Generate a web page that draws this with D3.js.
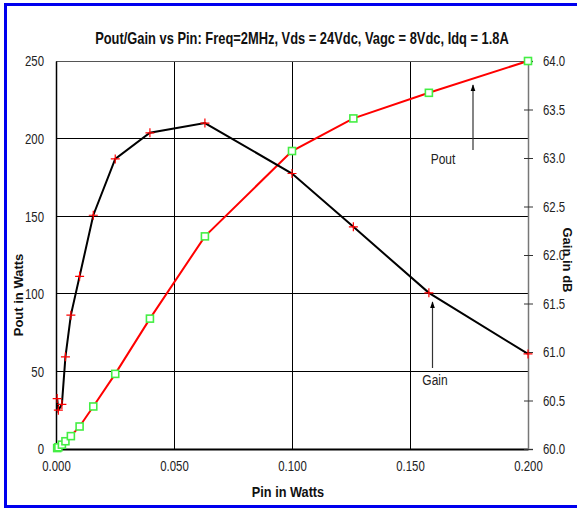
<!DOCTYPE html>
<html>
<head>
<meta charset="utf-8">
<script src="https://cdn.jsdelivr.net/npm/d3@7"></script>
<style>
  body { margin: 0; background: #fff; }
  svg { display: block; }
  text { font-family: "Liberation Sans", Arial, sans-serif; }
</style>
</head>
<body>
<div id="chart"></div>
<script>
// Pin / Pout / Gain data
const pinWatts = [0.0005, 0.001, 0.0025, 0.004, 0.0063, 0.01, 0.0158, 0.0251, 0.0398, 0.0631, 0.1, 0.126, 0.158, 0.2];
const poutWatts = [0.6, 1.1, 2.8, 5, 8.3, 14.5, 27.4, 48.4, 84, 137, 192, 213, 229.5, 250];
const gainDb = [60.52, 60.4, 60.46, 60.95, 61.38, 61.78, 62.41, 62.99, 63.26, 63.36, 62.84, 62.29, 61.61, 60.98];
const xTicks = [0, 0.05, 0.1, 0.15, 0.2];
const leftTicks = [0, 50, 100, 150, 200, 250];
const rightTicks = [60, 60.5, 61, 61.5, 62, 62.5, 63, 63.5, 64];

const W = 577, H = 510;
const plot = { left: 56, right: 528, top: 61, bottom: 449 };

const svg = d3.select("#chart").append("svg")
    .attr("width", W)
    .attr("height", H);

// squeeze text horizontally around its anchor, the reference uses a narrow face
function condense(sel, f) {
    sel.each(function () {
        const t = d3.select(this);
        const tx = +t.attr("x") || 0;
        t.attr("transform", `translate(${tx},0) scale(${f},1) translate(${-tx},0)`);
    });
}

// blue frame
svg.append("rect")
    .attr("x", 5.5).attr("y", 4.5)
    .attr("width", 600).attr("height", 502)
    .attr("fill", "none")
    .attr("stroke", "#0000ee")
    .attr("stroke-width", 3);

// scales
const x = d3.scaleLinear().domain([0, 0.2]).range([plot.left, plot.right]);
const yL = d3.scaleLinear().domain([0, 250]).range([plot.bottom, plot.top]);
const yR = d3.scaleLinear().domain([60, 64]).range([plot.bottom, plot.top]);

// gridlines
const grid = svg.append("g");
grid.selectAll(".vgrid")
    .data(xTicks.slice(1, -1))
    .enter().append("line")
    .attr("x1", d => x(d)).attr("x2", d => x(d))
    .attr("y1", plot.top).attr("y2", plot.bottom)
    .attr("stroke", "#000").attr("stroke-width", 1).attr("shape-rendering", "crispEdges");
grid.selectAll(".hgrid")
    .data(leftTicks.slice(1, -1))
    .enter().append("line")
    .attr("x1", plot.left).attr("x2", plot.right)
    .attr("y1", d => yL(d)).attr("y2", d => yL(d))
    .attr("stroke", "#000").attr("stroke-width", 1).attr("shape-rendering", "crispEdges");

// top border
svg.append("line")
    .attr("x1", plot.left).attr("x2", plot.right)
    .attr("y1", plot.top).attr("y2", plot.top)
    .attr("stroke", "#555").attr("shape-rendering", "crispEdges");

// left axis
const gLeft = svg.append("g")
    .attr("transform", `translate(${plot.left},0)`)
    .call(d3.axisLeft(yL).tickValues(leftTicks).tickSize(0).tickPadding(12).tickFormat(d3.format("d")));
gLeft.select(".domain").attr("stroke", "#000").attr("stroke-width", 1.5);
gLeft.selectAll("text").style("font-size", "15px").attr("fill", "#222").call(condense, 0.76);

// bottom axis
const gBottom = svg.append("g")
    .attr("transform", `translate(0,${plot.bottom})`)
    .call(d3.axisBottom(x).tickValues(xTicks).tickSize(0).tickPadding(11).tickFormat(d3.format(".3f")));
gBottom.select(".domain").attr("stroke", "#000").attr("stroke-width", 2);
gBottom.selectAll("text").style("font-size", "15px").attr("fill", "#222").call(condense, 0.76);

// right axis
const gRight = svg.append("g")
    .attr("transform", `translate(${plot.right},0)`)
    .call(d3.axisRight(yR).tickValues(rightTicks).tickSize(5).tickPadding(10).tickFormat(d3.format(".1f")));
gRight.select(".domain").attr("stroke", "#777").attr("stroke-width", 1.5);
gRight.selectAll(".tick line").attr("x1", -4).attr("x2", 5).attr("stroke", "#333");
gRight.selectAll("text").style("font-size", "15px").attr("fill", "#222").call(condense, 0.76);

// Pout line (left axis)
const poutData = pinWatts.map((p, i) => ({ pin: p, v: poutWatts[i] }));
svg.append("path")
    .datum(poutData)
    .attr("fill", "none")
    .attr("stroke", "#ff0000")
    .attr("stroke-width", 2)
    .attr("d", d3.line().x(d => x(d.pin)).y(d => yL(d.v)));

svg.selectAll(".sq")
    .data(poutData)
    .enter().append("rect")
    .attr("x", d => x(d.pin) - 3.5)
    .attr("y", d => yL(d.v) - 3.5)
    .attr("width", 7).attr("height", 7)
    .attr("fill", "#fff")
    .attr("stroke", "#44ee44")
    .attr("stroke-width", 1.6);

// Gain line (right axis)
const gainData = pinWatts.map((p, i) => ({ pin: p, v: gainDb[i] }));
svg.append("path")
    .datum(gainData)
    .attr("fill", "none")
    .attr("stroke", "#000")
    .attr("stroke-width", 2)
    .attr("d", d3.line().x(d => x(d.pin)).y(d => yR(d.v)));

svg.selectAll(".plus")
    .data(gainData)
    .enter().append("path")
    .attr("d", d => {
        const cx = x(d.pin), cy = yR(d.v);
        return `M${cx - 4.5},${cy}H${cx + 4.5}M${cx},${cy - 4.5}V${cy + 4.5}`;
    })
    .attr("stroke", "#ff0000")
    .attr("stroke-width", 1.2)
    .attr("fill", "none");

// annotation arrows
svg.append("defs").append("marker")
    .attr("id", "arrow")
    .attr("viewBox", "0 0 10 10")
    .attr("refX", 9).attr("refY", 5)
    .attr("markerWidth", 7).attr("markerHeight", 7)
    .attr("markerUnits", "userSpaceOnUse")
    .attr("orient", "auto")
    .append("path")
    .attr("d", "M0,1.5L10,5L0,8.5Z")
    .attr("fill", "#000");

function arrow(px, y1, y2) {
    svg.append("line")
        .attr("x1", px).attr("x2", px)
        .attr("y1", y1).attr("y2", y2)
        .attr("stroke", "#333")
        .attr("stroke-width", 1.2)
        .attr("marker-end", "url(#arrow)");
}
arrow(473, 150, 85);
arrow(432.5, 368, 302);

svg.append("text")
    .attr("x", 443).attr("y", 164)
    .attr("text-anchor", "middle")
    .style("font-size", "15px")
    .attr("fill", "#222")
    .text("Pout")
    .call(condense, 0.8);

svg.append("text")
    .attr("x", 435).attr("y", 385)
    .attr("text-anchor", "middle")
    .style("font-size", "15px")
    .attr("fill", "#222")
    .text("Gain")
    .call(condense, 0.8);

// title, squeezed to the reference width
const title = svg.append("text")
    .attr("x", 302).attr("y", 44)
    .attr("text-anchor", "middle")
    .style("font-size", "16px")
    .style("font-weight", "bold")
    .attr("fill", "#111")
    .text("Pout/Gain vs Pin: Freq=2MHz, Vds = 24Vdc, Vagc = 8Vdc, Idq = 1.8A");
title.call(condense, 414 / title.node().getComputedTextLength());

// axis titles
svg.append("text")
    .attr("transform", "translate(23,295) rotate(-90)")
    .attr("text-anchor", "middle")
    .style("font-size", "13px")
    .style("font-weight", "bold")
    .attr("fill", "#111")
    .text("Pout in Watts");

svg.append("text")
    .attr("transform", "translate(563,260) rotate(90)")
    .attr("text-anchor", "middle")
    .style("font-size", "13px")
    .style("font-weight", "bold")
    .attr("fill", "#111")
    .text("Gain in dB");

const xTitle = svg.append("text")
    .attr("x", 288).attr("y", 497)
    .attr("text-anchor", "middle")
    .style("font-size", "15px")
    .style("font-weight", "bold")
    .attr("fill", "#111")
    .text("Pin in Watts");
xTitle.call(condense, 0.85);
</script>
</body>
</html>
